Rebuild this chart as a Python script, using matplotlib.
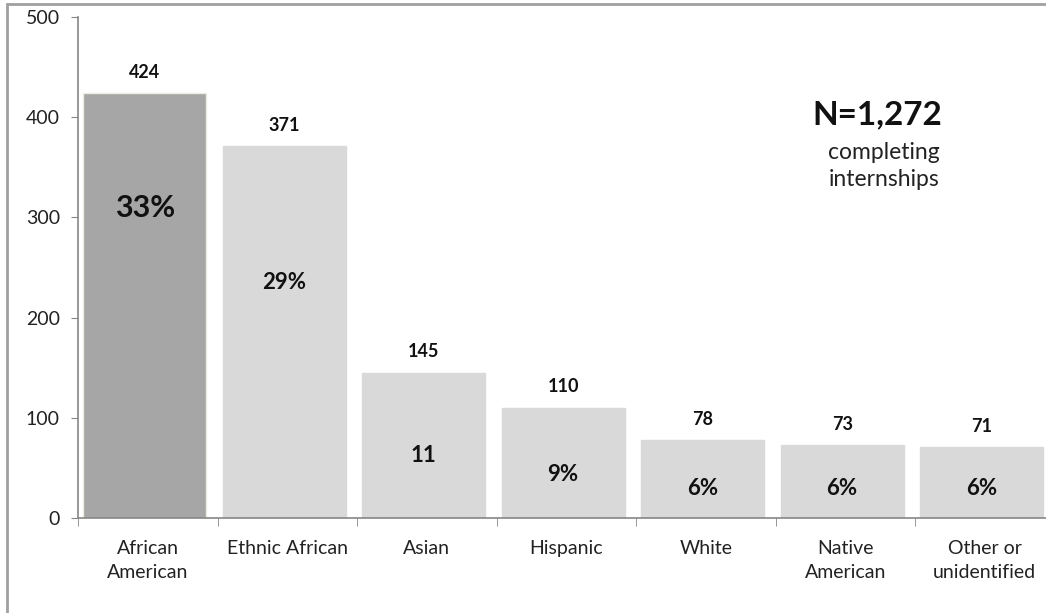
import numpy as np
import matplotlib.pyplot as plt
from matplotlib.patches import Rectangle

categories = ["African\nAmerican", "Ethnic African", "Asian", "Hispanic",
              "White", "Native\nAmerican", "Other or\nunidentified"]
counts = [424, 371, 145, 110, 78, 73, 71]
pct_labels = ["33%", "29%", "11", "9%", "6%", "6%", "6%"]
pct_y = [309, 235, 62, 43, 29, 29, 29]
pct_sizes = [22, 16, 16, 16, 16, 16, 16]

plt.rcParams['font.family'] = ['Lato', 'DejaVu Sans']

W, H = 1046, 613
fig = plt.figure(figsize=(W / 100, H / 100), dpi=100)

# axes placed in pixel terms; right edge runs past the picture like the source crop
left, right = 78, 1054.5
bottom, top = 518, 17
ax = fig.add_axes([left / W, 1 - bottom / H, (right - left) / W, (bottom - top) / H])

x = np.arange(len(categories))
xb = x - 0.022  # bars sit a touch left of the category centre in the source
colors = ["#A6A6A6"] + ["#D9D9D9"] * (len(categories) - 1)
edges = ["#EEECE1"] + ["#D9D9D9"] * (len(categories) - 1)
ax.bar(xb, counts, width=0.88, color=colors, edgecolor=edges, linewidth=1)

for xi, c in zip(xb, counts):
    ax.annotate(str(c), (xi, c), xytext=(0, 15), textcoords="offset points",
                ha="center", va="center", fontsize=13, fontweight="bold", color="#111111")

for xi, lab, yy, fs in zip(xb, pct_labels, pct_y, pct_sizes):
    ax.text(xi, yy, lab, ha="center", va="center", fontsize=fs,
            fontweight="bold", color="#111111")

ax.set_xlim(-0.5, len(categories) - 0.5)
ax.set_ylim(0, 500)
ax.set_yticks([0, 100, 200, 300, 400, 500])
ax.tick_params(axis="y", length=5, color="#868686", labelsize=14, labelcolor="#222222", pad=8)

ax.set_xticks(x)
ax.set_xticklabels(categories, fontsize=14, color="#222222", linespacing=1.45)
ax.tick_params(axis="x", length=0, pad=16)
ax.set_xticks(np.arange(len(categories)) - 0.5, minor=True)
ax.tick_params(axis="x", which="minor", length=6, color="#868686")

for s in ["top", "right"]:
    ax.spines[s].set_visible(False)
for s in ["left", "bottom"]:
    ax.spines[s].set_color("#868686")
    ax.spines[s].set_linewidth(1.2)

fig.text(877 / W, 1 - 115 / H, "N=1,272", ha="center", va="center",
         fontsize=24, fontweight="bold", color="#111111")
fig.text(884 / W, 1 - 166 / H, "completing\ninternships", ha="center", va="center",
         fontsize=16.5, color="#222222", linespacing=1.35)

# outer frame from the source crop (left and top edges visible)
fig.add_artist(Rectangle((7 / W, -0.1), 1.2, 1.1 - 4 / H, transform=fig.transFigure,
                         fill=False, edgecolor="#A0A0A0", linewidth=2, clip_on=False))

fig.savefig("out.png", dpi=100)
